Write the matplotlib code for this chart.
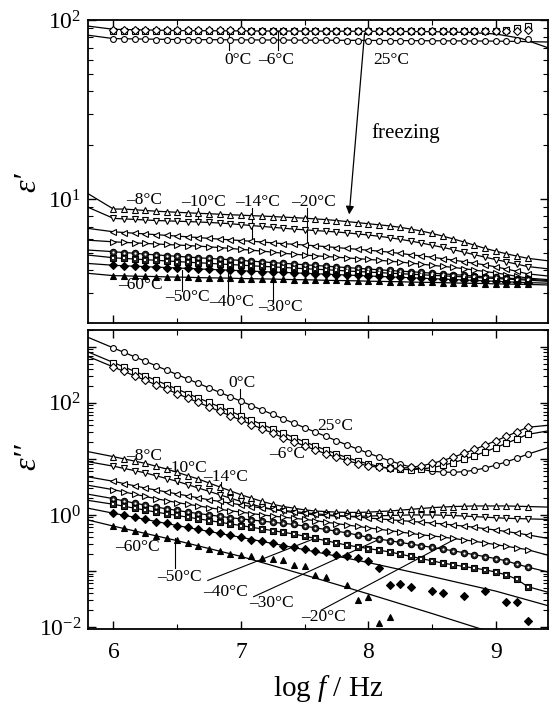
import numpy as np
import matplotlib
matplotlib.use("Agg")
import matplotlib.pyplot as plt
from matplotlib.ticker import LogLocator, FixedLocator, NullFormatter, FuncFormatter

plt.rcParams['font.family'] = ['Liberation Serif', 'DejaVu Serif']
plt.rcParams['mathtext.fontset'] = 'custom'
plt.rcParams['mathtext.rm'] = 'Liberation Serif'
plt.rcParams['mathtext.it'] = 'Liberation Serif:italic'
plt.rcParams['mathtext.bf'] = 'Liberation Serif:bold'

# ---------------- data (log10 values) ----------------
LOGF = [6.000, 6.083, 6.167, 6.250, 6.333, 6.417, 6.500, 6.583, 6.667, 6.750,
        6.833, 6.917, 7.000, 7.083, 7.167, 7.250, 7.333, 7.417, 7.500, 7.583,
        7.667, 7.750, 7.833, 7.917, 8.000, 8.083, 8.167, 8.250, 8.333, 8.417,
        8.500, 8.583, 8.667, 8.750, 8.833, 8.917, 9.000, 9.083, 9.167, 9.250]
X_EDGES = [5.80, 9.41]
SERIES = ['25', '0', 'm6', 'm8', 'm10', 'm14', 'm20', 'm30', 'm40', 'm50', 'm60']

# epsilon' (log10)
EP_25 = [1.893, 1.893, 1.892, 1.892, 1.891, 1.891, 1.890, 1.890, 1.890, 1.889, 1.889, 1.889, 1.888, 1.888, 1.888, 1.887, 1.887, 1.887, 1.886, 1.886,
         1.886, 1.886, 1.885, 1.885, 1.885, 1.885, 1.884, 1.884, 1.884, 1.884, 1.883, 1.883, 1.883, 1.883, 1.883, 1.882, 1.882, 1.883, 1.886, 1.893]
EP_0 = [1.941, 1.941, 1.940, 1.940, 1.940, 1.940, 1.939, 1.939, 1.939, 1.939, 1.939, 1.938, 1.938, 1.938, 1.938, 1.938, 1.938, 1.937, 1.937, 1.937,
        1.937, 1.937, 1.937, 1.936, 1.936, 1.936, 1.936, 1.936, 1.936, 1.936, 1.936, 1.936, 1.936, 1.937, 1.937, 1.938, 1.940, 1.946, 1.956, 1.968]
EP_M6 = [1.945, 1.945, 1.944, 1.944, 1.944, 1.943, 1.943, 1.943, 1.943, 1.942, 1.942, 1.942, 1.942, 1.941, 1.941, 1.941, 1.941, 1.941, 1.940, 1.940,
         1.940, 1.940, 1.940, 1.939, 1.939, 1.939, 1.939, 1.939, 1.938, 1.938, 1.938, 1.938, 1.938, 1.938, 1.937, 1.937, 1.937, 1.937, 1.939, 1.944]
EP_M8 = [0.944, 0.944, 0.940, 0.936, 0.932, 0.929, 0.926, 0.923, 0.920, 0.918, 0.915, 0.912, 0.910, 0.907, 0.905, 0.902, 0.899, 0.896, 0.893, 0.889,
         0.885, 0.880, 0.874, 0.868, 0.862, 0.856, 0.850, 0.842, 0.832, 0.821, 0.808, 0.793, 0.777, 0.760, 0.742, 0.724, 0.709, 0.694, 0.681, 0.669]
EP_M10 = [0.892, 0.889, 0.886, 0.883, 0.880, 0.878, 0.876, 0.874, 0.872, 0.869, 0.866, 0.862, 0.857, 0.852, 0.847, 0.842, 0.837, 0.832, 0.828, 0.824,
          0.820, 0.816, 0.811, 0.805, 0.799, 0.792, 0.784, 0.775, 0.765, 0.754, 0.742, 0.730, 0.717, 0.703, 0.689, 0.675, 0.662, 0.649, 0.636, 0.623]
EP_M14 = [0.817, 0.813, 0.809, 0.805, 0.801, 0.797, 0.793, 0.789, 0.785, 0.780, 0.776, 0.772, 0.768, 0.764, 0.760, 0.755, 0.751, 0.747, 0.743, 0.739,
          0.734, 0.729, 0.724, 0.719, 0.714, 0.709, 0.703, 0.696, 0.689, 0.682, 0.675, 0.667, 0.659, 0.650, 0.641, 0.632, 0.621, 0.609, 0.596, 0.582]
EP_M20 = [0.761, 0.758, 0.755, 0.752, 0.749, 0.746, 0.743, 0.740, 0.737, 0.733, 0.729, 0.724, 0.719, 0.714, 0.709, 0.703, 0.697, 0.692, 0.687, 0.683,
          0.679, 0.675, 0.671, 0.667, 0.663, 0.658, 0.653, 0.648, 0.642, 0.636, 0.630, 0.624, 0.618, 0.611, 0.603, 0.595, 0.587, 0.578, 0.568, 0.558]
EP_M30 = [0.706, 0.701, 0.697, 0.692, 0.688, 0.684, 0.680, 0.676, 0.672, 0.668, 0.665, 0.661, 0.657, 0.653, 0.649, 0.645, 0.641, 0.637, 0.633, 0.629,
          0.625, 0.621, 0.617, 0.613, 0.609, 0.605, 0.601, 0.597, 0.594, 0.590, 0.586, 0.582, 0.578, 0.574, 0.570, 0.566, 0.562, 0.558, 0.555, 0.552]
EP_M40 = [0.672, 0.668, 0.665, 0.661, 0.658, 0.654, 0.651, 0.647, 0.644, 0.641, 0.637, 0.634, 0.631, 0.627, 0.624, 0.621, 0.618, 0.614, 0.611, 0.608,
          0.605, 0.602, 0.598, 0.595, 0.592, 0.589, 0.586, 0.583, 0.580, 0.577, 0.574, 0.571, 0.568, 0.565, 0.562, 0.559, 0.556, 0.553, 0.550, 0.547]
EP_M50 = [0.630, 0.627, 0.625, 0.622, 0.620, 0.617, 0.615, 0.612, 0.610, 0.607, 0.605, 0.602, 0.600, 0.597, 0.595, 0.592, 0.590, 0.588, 0.585, 0.583,
          0.580, 0.578, 0.575, 0.573, 0.570, 0.568, 0.565, 0.563, 0.560, 0.558, 0.555, 0.553, 0.550, 0.548, 0.545, 0.543, 0.540, 0.538, 0.535, 0.533]
EP_M60 = [0.572, 0.571, 0.569, 0.568, 0.567, 0.565, 0.564, 0.563, 0.561, 0.560, 0.559, 0.558, 0.556, 0.555, 0.554, 0.553, 0.551, 0.550, 0.549, 0.548,
          0.546, 0.545, 0.544, 0.543, 0.541, 0.540, 0.539, 0.538, 0.536, 0.535, 0.534, 0.533, 0.531, 0.530, 0.529, 0.528, 0.526, 0.525, 0.524, 0.523]
# fitted-curve end values of epsilon' at X_EDGES (left, right)
EP_EDGE = {'m8': [1.030, 0.655], 'm10': [0.954, 0.610], 'm14': [0.836, 0.570], 'm20': [0.770, 0.550],
           'm30': [0.715, 0.545], 'm40': [0.687, 0.540], 'm50': [0.640, 0.530], 'm60': [0.585, 0.520]}
# fitted curves of liquid water in epsilon'
FIT_X_WATER = [5.80, 6.00, 6.50, 7.00, 8.00, 8.50, 8.80, 9.00, 9.20, 9.41]
FIT_EP_COLDWATER = [1.966, 1.948, 1.941, 1.939, 1.937, 1.935, 1.930, 1.922, 1.897, 1.845]
FIT_EP_25 = [1.915, 1.896, 1.891, 1.889, 1.886, 1.884, 1.883, 1.882, 1.880, 1.877]

# epsilon'' (log10)
nan = float('nan')
EPP_25 = [2.980, 2.901, 2.822, 2.743, 2.663, 2.584, 2.505, 2.426, 2.347, 2.268, 2.188, 2.109, 2.030, 1.952, 1.872, 1.794, 1.714, 1.636, 1.557, 1.480,
          1.402, 1.325, 1.249, 1.175, 1.103, 1.034, 0.968, 0.908, 0.855, 0.813, 0.781, 0.764, 0.761, 0.772, 0.799, 0.838, 0.888, 0.947, 1.013, 1.084]
EPP_0 = [2.720, 2.641, 2.562, 2.483, 2.403, 2.324, 2.245, 2.166, 2.087, 2.008, 1.929, 1.850, 1.771, 1.693, 1.614, 1.536, 1.458, 1.381, 1.306, 1.231,
         1.159, 1.089, 1.024, 0.962, 0.910, 0.866, 0.833, 0.814, 0.809, 0.820, 0.845, 0.883, 0.933, 0.991, 1.055, 1.127, 1.201, 1.278, 1.357, 1.437]
EPP_M6 = [2.640, 2.561, 2.482, 2.403, 2.323, 2.244, 2.165, 2.086, 2.007, 1.929, 1.850, 1.770, 1.692, 1.614, 1.536, 1.459, 1.381, 1.306, 1.232, 1.160,
          1.091, 1.026, 0.969, 0.918, 0.877, 0.849, 0.834, 0.833, 0.848, 0.877, 0.919, 0.971, 1.032, 1.099, 1.170, 1.246, 1.323, 1.402, 1.483, 1.564]
EPP_M8 = [1.04, 1.00, 0.96, 0.92, 0.87, 0.82, 0.76, 0.70, 0.64, 0.57, 0.50, 0.43, 0.36, 0.30, 0.24, 0.19, 0.15, 0.12, 0.09, 0.07,
          0.06, 0.05, 0.045, 0.045, 0.05, 0.06, 0.07, 0.085, 0.10, 0.115, 0.13, 0.14, 0.15, 0.155, 0.16, 0.16, 0.16, 0.16, 0.155, 0.15]
EPP_M10 = [0.87, 0.83, 0.79, 0.75, 0.70, 0.65, 0.60, 0.54, 0.48, 0.42, 0.36, 0.30, 0.24, 0.19, 0.14, 0.10, 0.07, 0.04, 0.02, 0.00,
           -0.01, -0.02, -0.025, -0.025, -0.02, -0.015, -0.01, -0.005, 0.0, 0.0, 0.0, -0.005, -0.01, -0.02, -0.03, -0.04, -0.05, -0.06, -0.065, -0.07]
EPP_M14 = [0.60, 0.56, 0.52, 0.48, 0.445, 0.41, 0.375, 0.34, 0.305, 0.27, 0.24, 0.21, 0.18, 0.15, 0.125, 0.10, 0.08, 0.06, 0.04, 0.02,
           0.005, -0.01, -0.025, -0.04, -0.055, -0.07, -0.085, -0.10, -0.115, -0.13, -0.145, -0.16, -0.18, -0.20, -0.22, -0.245, -0.27, -0.295, -0.325, -0.355]
EPP_M20 = [0.45, 0.41, 0.37, 0.33, 0.29, 0.255, 0.22, 0.19, 0.16, 0.13, 0.10, 0.075, 0.05, 0.025, 0.0, -0.02, -0.04, -0.06, -0.08, -0.10,
           -0.13, -0.155, -0.18, -0.205, -0.23, -0.255, -0.28, -0.305, -0.33, -0.355, -0.375, -0.395, -0.42, -0.445, -0.47, -0.50, -0.53, -0.56, -0.59, -0.62]
EPP_M30 = [0.29, 0.25, 0.21, 0.175, 0.14, 0.11, 0.08, 0.05, 0.025, 0.0, -0.025, -0.05, -0.07, -0.09, -0.11, -0.13, -0.15, -0.17, -0.20, -0.23,
           -0.26, -0.29, -0.32, -0.36, -0.40, -0.43, -0.46, -0.49, -0.52, -0.55, -0.58, -0.61, -0.64, -0.675, -0.71, -0.745, -0.78, -0.82, -0.88, -0.93]
EPP_M40 = [0.19, 0.155, 0.12, 0.085, 0.05, 0.02, -0.01, -0.04, -0.07, -0.10, -0.13, -0.16, -0.19, -0.22, -0.25, -0.28, -0.31, -0.34, -0.38, -0.42,
           -0.46, -0.50, -0.54, -0.57, -0.60, -0.63, -0.66, -0.70, -0.74, -0.78, -0.82, -0.86, -0.89, -0.92, -0.95, -0.98, -1.02, -1.07, -1.15, -1.28]
EPP_M50 = [0.03, -0.01, -0.04, -0.08, -0.12, -0.15, -0.19, -0.22, -0.26, -0.29, -0.33, -0.36, -0.40, -0.44, -0.47, -0.51, -0.55, -0.58, -0.60, -0.64,
           -0.67, -0.72, -0.74, -0.77, -0.82, -0.95, -1.25, -1.23, -1.28, nan, -1.35, -1.40, nan, -1.45, nan, -1.36, nan, -1.55, -1.55, -1.90]
EPP_M60 = [-0.20, -0.24, -0.29, -0.33, -0.37, -0.42, -0.45, -0.50, -0.55, -0.60, -0.64, -0.69, -0.72, -0.74, -0.76, -0.78, -0.80, -0.89, -0.91, -1.07,
           -1.10, nan, -1.25, -1.52, -1.46, -1.93, -1.82, nan, nan, nan, nan, nan, nan, nan, nan, nan, nan, nan, nan, nan]
EPP_EDGE = {'25': [3.17, 1.20], '0': [2.91, 1.50], 'm6': [2.83, 1.60], 'm8': [1.13, 0.14], 'm10': [0.95, -0.08],
            'm14': [0.68, -0.42], 'm20': [0.53, -0.72], 'm30': [0.37, -1.02], 'm40': [0.26, -1.38]}
FIT_X_ICE = [5.80, 6.00, 6.50, 7.00, 7.50, 8.00, 8.50, 9.00, 9.41]
FIT_EPP_M50 = [0.12, 0.03, -0.19, -0.40, -0.62, -0.85, -1.10, -1.36, -1.62]
FIT_EPP_M60 = [-0.09, -0.20, -0.46, -0.74, -1.07, -1.41, -1.76, -2.12, -2.42]

EP = {'25': EP_25, '0': EP_0, 'm6': EP_M6, 'm8': EP_M8, 'm10': EP_M10, 'm14': EP_M14, 'm20': EP_M20,
      'm30': EP_M30, 'm40': EP_M40, 'm50': EP_M50, 'm60': EP_M60}
EPP = {'25': EPP_25, '0': EPP_0, 'm6': EPP_M6, 'm8': EPP_M8, 'm10': EPP_M10, 'm14': EPP_M14, 'm20': EPP_M20,
       'm30': EPP_M30, 'm40': EPP_M40, 'm50': EPP_M50, 'm60': EPP_M60}

# ---------------- styles ----------------
STYLE = {
    '25': dict(marker='o', ms=4.2, mfc='white'),
    '0': dict(marker='s', ms=4.0, mfc='white'),
    'm6': dict(marker='D', ms=3.6, mfc='white'),
    'm8': dict(marker='^', ms=4.8, mfc='white'),
    'm10': dict(marker='v', ms=4.8, mfc='white'),
    'm14': dict(marker='<', ms=4.8, mfc='white'),
    'm20': dict(marker='>', ms=4.8, mfc='white'),
    'm30': dict(marker='o', ms=4.6, mfc='0.15'),
    'm40': dict(marker='s', ms=4.3, mfc='0.15'),
    'm50': dict(marker='D', ms=4.0, mfc='black'),
    'm60': dict(marker='^', ms=5.0, mfc='black'),
}
INNER = {'m30': 'o', 'm40': 's'}
LW = 0.9

fig = plt.figure(figsize=(5.52, 7.06), dpi=100)
ax1 = fig.add_axes([88/552, 1-323/706, 460/552, 303/706])
ax2 = fig.add_axes([88/552, 1-629/706, 460/552, 299/706])

x = np.array(LOGF)


def markers(ax, key, vals):
    y = 10 ** np.array(vals, dtype=float)
    st = STYLE[key]
    ax.plot(x, y, ls='none', marker=st['marker'], ms=st['ms'], mfc=st['mfc'],
            mec='black', mew=0.8, zorder=3, clip_on=True)
    if key in INNER:
        ax.plot(x, y, ls='none', marker=INNER[key], ms=st['ms'] * 0.35,
                mfc='white', mec='white', mew=0, zorder=4)


def line_through(ax, vals, edge):
    xx = np.concatenate([[X_EDGES[0]], x, [X_EDGES[1]]])
    yy = np.concatenate([[edge[0]], np.array(vals, dtype=float), [edge[1]]])
    m = ~np.isnan(yy)
    ax.plot(xx[m], 10 ** yy[m], color='black', lw=LW, zorder=2)


def fit_line(ax, fx, fy):
    ax.plot(fx, 10 ** np.array(fy), color='black', lw=LW, zorder=2)


# ---- top panel: epsilon'
fit_line(ax1, FIT_X_WATER, FIT_EP_COLDWATER)
fit_line(ax1, FIT_X_WATER, FIT_EP_25)
for k in SERIES:
    if k in EP_EDGE:
        line_through(ax1, EP[k], EP_EDGE[k])
for k in SERIES:
    markers(ax1, k, EP[k])

# ---- bottom panel: epsilon''
for k in SERIES:
    if k in EPP_EDGE:
        line_through(ax2, EPP[k], EPP_EDGE[k])
fit_line(ax2, FIT_X_ICE, FIT_EPP_M50)
fit_line(ax2, FIT_X_ICE, FIT_EPP_M60)
for k in SERIES:
    markers(ax2, k, EPP[k])

# ---------------- axes ----------------
def even_label(v, pos):
    e = int(round(np.log10(v)))
    if abs(10 ** e - v) / v > 1e-6 or e % 2:
        return ''
    return r'$10^{%d}$' % e


for ax in (ax1, ax2):
    ax.set_yscale('log')
    ax.set_xlim(5.80, 9.41)
    ax.xaxis.set_major_locator(FixedLocator([6, 7, 8, 9]))
    ax.xaxis.set_minor_locator(FixedLocator([6.5, 7.5, 8.5]))
    ax.yaxis.set_major_locator(LogLocator(base=10, numticks=20))
    ax.yaxis.set_minor_locator(LogLocator(base=10, subs=np.arange(2, 10), numticks=20))
    ax.yaxis.set_minor_formatter(NullFormatter())
    ax.tick_params(which='both', direction='in', top=True, right=True, labelsize=17)
    ax.tick_params(which='major', length=6, width=1.0)
    ax.tick_params(which='minor', length=3.5, width=0.8)
    ax.tick_params(axis='x', which='major', pad=9)
    ax.tick_params(axis='y', which='major', pad=5)
    for s in ax.spines.values():
        s.set_linewidth(1.3)

ax1.set_ylim(2.03, 100)
ax2.set_ylim(0.0092, 2000)
ax1.yaxis.set_major_formatter(FuncFormatter(lambda v, p: r'$10^{%d}$' % int(round(np.log10(v)))))
ax2.yaxis.set_major_formatter(FuncFormatter(even_label))
ax1.tick_params(axis='x', labelbottom=False)

# axis labels
fig.text(28/552, 1-182/706, 'ε′', rotation=90, fontsize=23, style='italic', ha='center', va='center')
fig.text(28/552, 1-457/706, 'ε′′', rotation=90, fontsize=23, style='italic', ha='center', va='center')
fig.text(328/552, 1-688/706, r'log $f$ / Hz', fontsize=21, ha='center', va='center')

# ---------------- annotations ----------------
FS = 12.5
def lab(ax, xx, yy, s, fs=FS, ha='center'):
    ax.text(xx, yy, s, fontsize=fs, ha=ha, va='center', zorder=5)

def seg(ax, x0, y0, x1, y1):
    ax.plot([x0, x1], [y0, y1], color='black', lw=0.8, zorder=2)

# top panel
lab(ax1, 6.98, 10**1.777, '0°C')
lab(ax1, 7.28, 10**1.777, '–6°C')
lab(ax1, 8.18, 10**1.777, '25°C')
seg(ax1, 6.91, 10**1.93, 6.91, 10**1.83)
seg(ax1, 7.29, 10**1.94, 7.29, 10**1.83)
lab(ax1, 8.29, 23.3, 'freezing', fs=15)
ax1.annotate('', xy=(7.85, 8.2), xytext=(7.97, 84),
             arrowprops=dict(arrowstyle='-|>', color='black', lw=0.9, mutation_scale=12,
                             shrinkA=0, shrinkB=0), zorder=5)
lab(ax1, 6.24, 10**0.994, '–8°C')
lab(ax1, 6.71, 10**0.985, '–10°C')
lab(ax1, 7.13, 10**0.985, '–14°C')
lab(ax1, 7.57, 10**0.985, '–20°C')
seg(ax1, 6.66, 10**0.948, 6.66, 10**0.866)
seg(ax1, 7.09, 10**0.948, 7.09, 10**0.765)
seg(ax1, 7.52, 10**0.948, 7.52, 10**0.687)
lab(ax1, 6.21, 10**0.52, '–60°C')
lab(ax1, 6.58, 10**0.454, '–50°C')
lab(ax1, 6.93, 10**0.426, '–40°C')
lab(ax1, 7.31, 10**0.398, '–30°C')
seg(ax1, 6.54, 10**0.605, 6.54, 10**0.484)
seg(ax1, 6.90, 10**0.638, 6.90, 10**0.455)
seg(ax1, 7.25, 10**0.645, 7.25, 10**0.428)

# bottom panel
lab(ax2, 7.01, 10**2.36, '0°C')
seg(ax2, 6.99, 10**2.25, 6.99, 10**1.80)
lab(ax2, 7.74, 10**1.59, '25°C')
lab(ax2, 7.36, 10**1.09, '–6°C')
lab(ax2, 6.24, 10**1.06, '–8°C')
lab(ax2, 6.56, 10**0.83, '–10°C')
lab(ax2, 6.88, 10**0.68, '–14°C')
seg(ax2, 6.51, 10**0.74, 6.51, 10**0.55)
seg(ax2, 6.84, 10**0.595, 6.84, 10**0.12)
lab(ax2, 6.19, 10**-0.57, '–60°C')
lab(ax2, 6.52, 10**-1.10, '–50°C')
seg(ax2, 6.48, 10**-0.42, 6.48, 10**-0.95)
lab(ax2, 6.88, 10**-1.37, '–40°C')
seg(ax2, 6.74, 10**-1.17, 7.58, 10**-0.42)
lab(ax2, 7.24, 10**-1.58, '–30°C')
seg(ax2, 7.10, 10**-1.46, 8.10, 10**-0.42)
lab(ax2, 7.65, 10**-1.82, '–20°C')
seg(ax2, 7.63, 10**-1.70, 8.69, 10**-0.42)

fig.savefig('out.png', dpi=100)
